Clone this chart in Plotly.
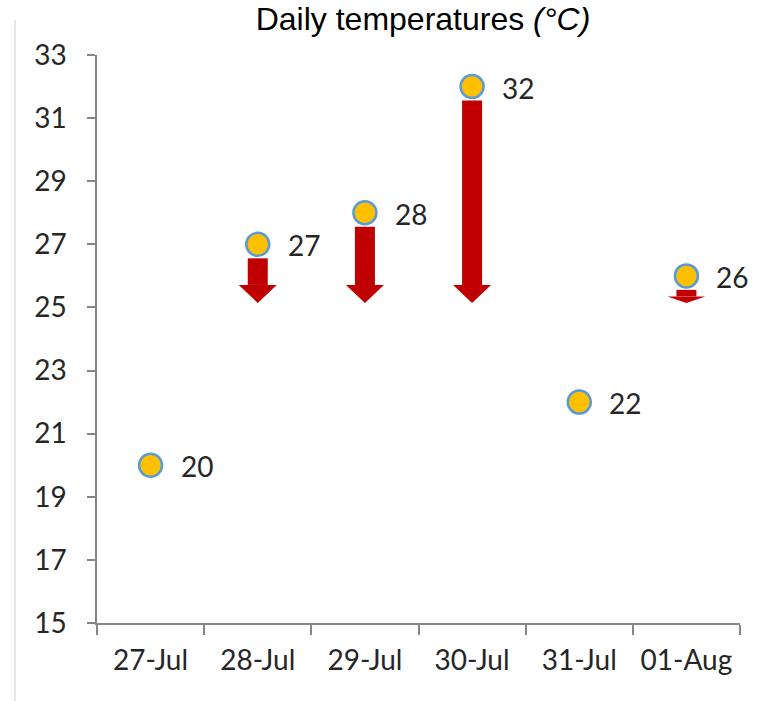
import plotly.graph_objects as go

# ---- data ----
dates = ["27-Jul", "28-Jul", "29-Jul", "30-Jul", "31-Jul", "01-Aug"]
temps = [20, 27, 28, 32, 22, 26]
threshold = 25
y_ticks = [15, 17, 19, 21, 23, 25, 27, 29, 31, 33]

# ---- layout geometry ----
W, H = 757, 701
ML, MR, MT, MB = 97, 17, 55, 78
y_min, y_max = y_ticks[0], y_ticks[-1]
plot_h = H - MT - MB
plot_w = W - ML - MR
px_per_unit = plot_h / (y_max - y_min)

ARROW_RED = "#C00000"
AXIS_GRAY = "#868686"
TXT = "#262626"
TICK_FONT = dict(family="Lato, Open Sans, sans-serif", size=28, color=TXT)

fig = go.Figure()

fig.add_trace(go.Scatter(
    x=dates, y=temps, mode="markers",
    marker=dict(size=23, color="#FFC000", line=dict(color="#5B9BD5", width=2.5)),
    showlegend=False, cliponaxis=False, hoverinfo="x+y",
))

shapes = []
annotations = []
gap = 14 / px_per_unit          # gap below marker before shaft starts
tip_off = 4.5 / px_per_unit     # tip sits slightly above the threshold
head_full = 18 / px_per_unit
for d, t in zip(dates, temps):
    annotations.append(dict(
        x=d, y=t, xref="x", yref="y", text=str(t), showarrow=False,
        xanchor="left", yanchor="middle", xshift=28, yshift=-1, font=TICK_FONT,
    ))
    if t > threshold:
        top = t - gap
        tip = threshold + tip_off
        length = top - tip
        head = min(head_full, length / 2)
        base = tip + head
        shapes.append(dict(
            type="rect", xref="x", yref="y", xsizemode="pixel", xanchor=d,
            x0=-10, x1=10, y0=base, y1=top,
            fillcolor=ARROW_RED, line=dict(width=0), layer="below",
        ))
        shapes.append(dict(
            type="path", xref="x", yref="y", xsizemode="pixel", xanchor=d,
            path=f"M -19,{base} L 19,{base} L 0,{tip} Z",
            fillcolor=ARROW_RED, line=dict(width=0), layer="below",
        ))

# left frame line
shapes.append(dict(
    type="line", xref="paper", yref="paper",
    x0=(15 - ML) / plot_w, x1=(15 - ML) / plot_w,
    y0=(H - MB - 20) / plot_h, y1=-MB / plot_h,
    line=dict(color="#D0D0D0", width=1),
))

fig.update_layout(
    width=W, height=H,
    margin=dict(l=ML, r=MR, t=MT, b=MB),
    paper_bgcolor="white", plot_bgcolor="white",
    title=dict(
        text="Daily temperatures <i>(°C)</i>",
        font=dict(family="Liberation Sans, Arial, sans-serif", size=32, color="black"),
        x=423 / W, xref="container", xanchor="center",
        y=1 - 19 / H, yref="container", yanchor="middle",
    ),
    shapes=shapes,
    annotations=annotations,
    xaxis=dict(
        type="category", range=[-0.5, len(dates) - 0.5],
        tickson="boundaries", ticks="outside", ticklen=10, tickwidth=1.5,
        tickcolor=AXIS_GRAY, showline=True, linecolor=AXIS_GRAY, linewidth=1.5,
        showgrid=False, zeroline=False, tickfont=TICK_FONT, ticklabelstandoff=12,
    ),
    yaxis=dict(
        range=[y_min, y_max], tickvals=y_ticks, ticks="outside", ticklen=8,
        tickwidth=1.5, tickcolor=AXIS_GRAY, showline=True, linecolor=AXIS_GRAY,
        linewidth=1.5, showgrid=False, zeroline=False, tickfont=TICK_FONT,
        ticklabelstandoff=15,
    ),
)

fig.write_html("out.html")
